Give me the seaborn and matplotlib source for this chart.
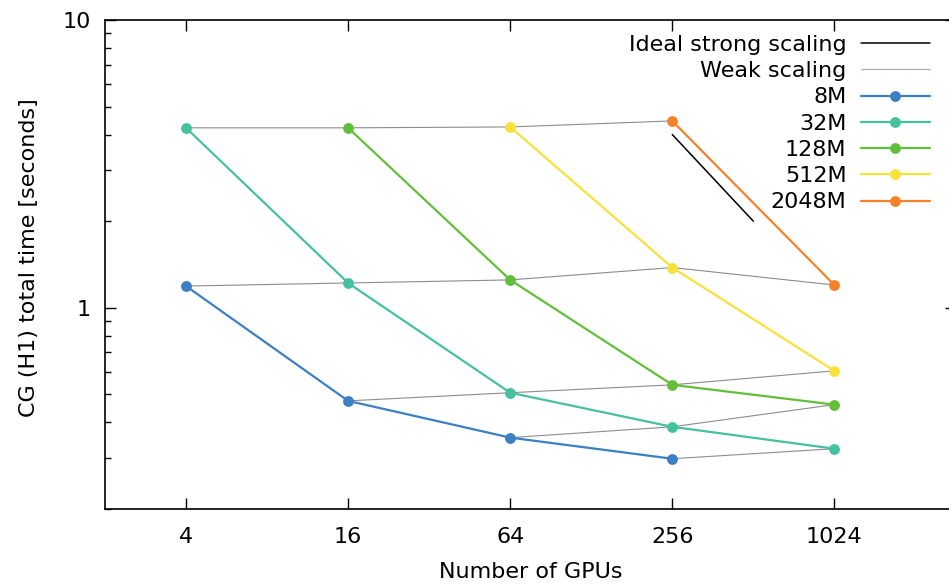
import pandas as pd
import seaborn as sns
import matplotlib.pyplot as plt
from matplotlib.lines import Line2D
from matplotlib.ticker import LogLocator, NullFormatter, FixedLocator, FixedFormatter, NullLocator

# aantal GPUs (x-as)
gpus = [4, 16, 64, 256, 1024]
sizes = ['8M', '32M', '128M', '512M', '2048M']
size_m = [8, 32, 128, 512, 2048]
colors = ['#3b7fc4', '#45c1a0', '#62bf3a', '#f9e03a', '#f5822a']

# CG (H1) tijd in seconden per probleemgrootte, None = niet gemeten
t_8M = [1.19, 0.475, 0.354, 0.299, None]
t_32M = [4.22, 1.22, 0.507, 0.386, 0.324]
t_128M = [None, 4.22, 1.25, 0.540, 0.461]
t_512M = [None, None, 4.25, 1.38, 0.604]
t_2048M = [None, None, None, 4.46, 1.20]

# ideale strong scaling (1/N)
ideal_gpus = [256, 512]
ideal_time = [4.0, 2.0]

times = [t_8M, t_32M, t_128M, t_512M, t_2048M]

# lange tabel maken
rows = []
for s, m, ts in zip(sizes, size_m, times):
    for g, t in zip(gpus, ts):
        if t is not None:
            rows.append({'gpus': g, 'size': s, 'time': t, 'per_gpu': m / g})
df = pd.DataFrame(rows)

sns.set_style('ticks')
plt.rcParams['font.family'] = ['DejaVu Sans']
plt.rcParams['font.size'] = 16
plt.rcParams['text.color'] = 'black'
plt.rcParams['axes.labelcolor'] = 'black'
plt.rcParams['xtick.color'] = 'black'
plt.rcParams['ytick.color'] = 'black'

fig = plt.figure(figsize=(9.49, 5.86), dpi=100)
ax = fig.add_axes([0.1106, 0.1314, 0.8967, 0.8345])

# weak scaling: zelfde hoeveelheid werk per GPU
sns.lineplot(data=df, x='gpus', y='time', units='per_gpu', estimator=None,
             color='#8c8c8c', linewidth=0.8, ax=ax, zorder=1, legend=False)

# strong scaling per probleemgrootte
sns.lineplot(data=df, x='gpus', y='time', hue='size', hue_order=sizes,
             palette=colors, marker='o', markersize=7.8, markeredgewidth=0,
             linewidth=1.6, ax=ax, zorder=3, legend=False)

ax.plot(ideal_gpus, ideal_time, color='black', linewidth=1.1, zorder=2)

ax.set_xscale('log', base=2)
ax.set_yscale('log')
ax.set_xlim(2, 2 ** 11.5)
ax.set_ylim(0.2, 10)

ax.xaxis.set_major_locator(FixedLocator(gpus))
ax.xaxis.set_major_formatter(FixedFormatter([str(g) for g in gpus]))
ax.xaxis.set_minor_locator(NullLocator())
ax.yaxis.set_major_locator(FixedLocator([1, 10]))
ax.yaxis.set_major_formatter(FixedFormatter(['1', '10']))
ax.yaxis.set_minor_locator(LogLocator(base=10, subs=range(2, 10)))
ax.yaxis.set_minor_formatter(NullFormatter())

ax.tick_params(which='both', direction='in', top=True, right=True,
               color='black', width=1.0, labelsize=16)
ax.tick_params(which='major', length=8)
ax.tick_params(which='minor', length=4)
ax.tick_params(axis='x', which='major', pad=13)
ax.tick_params(axis='y', which='major', pad=10)
for sp in ax.spines.values():
    sp.set_color('black')
    sp.set_linewidth(1.2)

ax.set_xlabel('Number of GPUs', fontsize=16)
ax.set_ylabel('CG (H1) total time [seconds]', fontsize=16)
ax.xaxis.set_label_coords(0.5, -0.108)
ax.yaxis.set_label_coords(-0.078, 0.515)

handles = [Line2D([], [], color='black', linewidth=1.1),
           Line2D([], [], color='#b4b4b4', linewidth=1.0)]
for c in colors:
    handles.append(Line2D([], [], color=c, linewidth=1.6, marker='o',
                          markersize=7.8, markeredgewidth=0))
labels = ['Ideal strong scaling', 'Weak scaling'] + sizes
ax.legend(handles, labels, loc='upper right', bbox_to_anchor=(0.9694, 0.9693),
          borderaxespad=0, borderpad=0, frameon=False, markerfirst=False,
          handlelength=3.1, handletextpad=0.65, labelspacing=0.28, fontsize=16)

fig.savefig('out.png', dpi=100)
